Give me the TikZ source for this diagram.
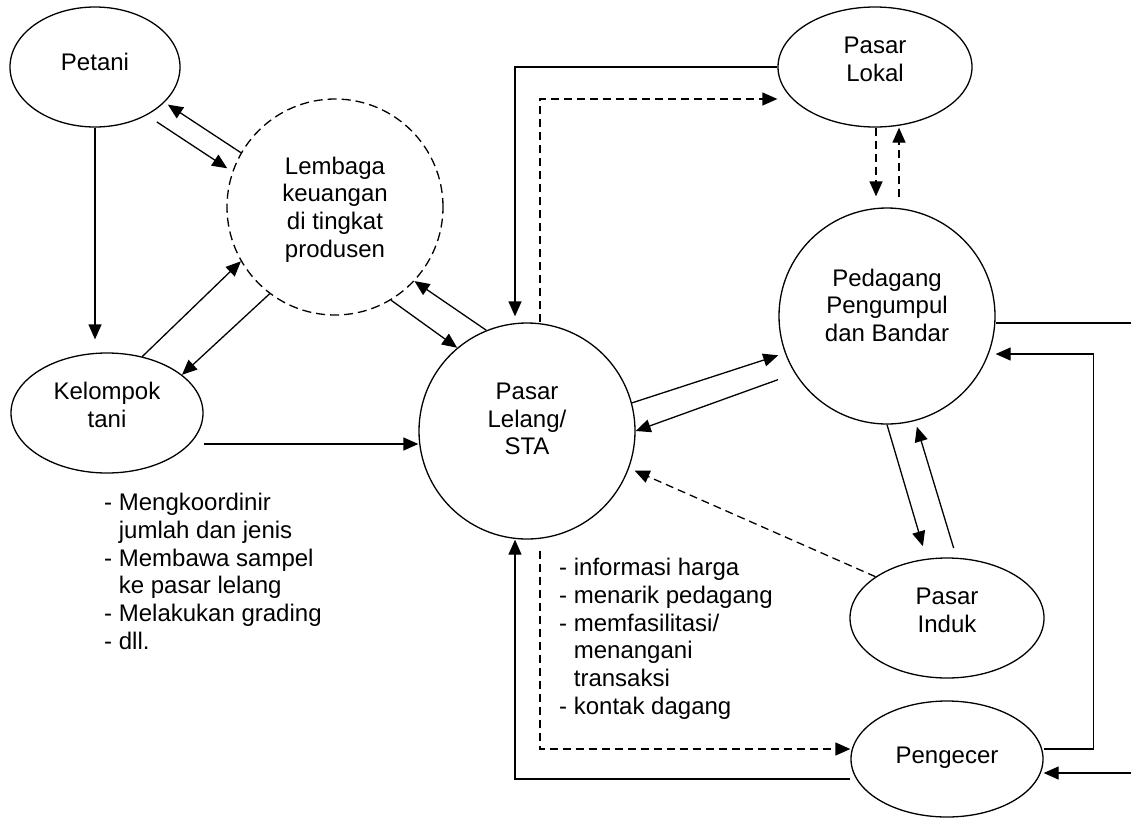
\documentclass[tikz,border=0pt]{standalone}
\usepackage{fontspec}
\setmainfont{Liberation Sans}
\usepackage{tikz}
\usetikzlibrary{positioning,arrows.meta,shapes.geometric}

\begin{document}
\begin{tikzpicture}[
      x=1pt, y=-1pt,
      font=\fontsize{24}{27.7}\selectfont,
      actor/.style={ellipse, draw, line width=1.3pt, inner sep=0pt, align=center,
                    minimum width=192pt, minimum height=120pt},
      hub/.style={circle, draw, line width=1.3pt, inner sep=0pt, align=center,
                  minimum size=216pt},
      lift/.style={text depth=#1},
      link/.style={line width=1.3pt},
      arr/.style={link, -{Triangle[length=15pt,width=13pt]}},
      dasharr/.style={arr, dash pattern=on 8pt off 5pt},
      note/.style={align=left, anchor=north west, inner sep=0pt},
    ]
    \useasboundingbox (0,0) rectangle (1131,817);

    \node[actor, minimum width=170pt, lift=10pt] (petani) at (95,67) {Petani};
    \node[hub, dash pattern=on 9pt off 5pt, lift=0pt] (lembaga) at (335,207)
      {Lembaga\\keuangan\\di tingkat\\produsen};
    \node[actor, lift=16pt] (kelompok) at (107,413) {Kelompok\\tani};
    \node[hub, lift=24pt] (sta) at (527,431) {Pasar\\Lelang/\\STA};
    \node[actor, minimum width=194pt, lift=16pt] (lokal) at (875,67) {Pasar\\Lokal};
    \node[hub, lift=22pt] (pedagang) at (887,316) {Pedagang\\Pengumpul\\dan Bandar};
    \node[actor, minimum width=194pt, lift=16pt] (induk) at (947,618) {Pasar\\Induk};
    \node[actor, minimum height=116pt, lift=8pt] (pengecer) at (947,759) {Pengecer};

    \node[note] (kelnote) at (104,493) {- Mengkoordinir\\\hphantom{- }jumlah dan jenis\\
      - Membawa sampel\\\hphantom{- }ke pasar lelang\\- Melakukan grading\\- dll.};
    \node[note] (stanote) at (559,558) {- informasi harga\\- menarik pedagang\\
      - memfasilitasi/\\\hphantom{- }menangani\\\hphantom{- }transaksi\\- kontak dagang};

    \coordinate (outa) at (1131,323);
    \coordinate (ina) at (1131,773);

    \draw[arr, shorten >=13pt] (petani.south) -- (petani.south |- kelompok.north);
    \draw[arr, shorten >=4pt] (lembaga.150) -- (petani.-27);
    \draw[arr, shorten <=12pt, shorten >=6pt] (petani.-43) -- (lembaga.161);
    \draw[arr] (kelompok.58) -- (lembaga.210);
    \draw[arr] (lembaga.233) -- (kelompok.27);
    \draw[arr] (lembaga.-59) -- (sta.130);
    \draw[arr] (sta.112) -- (lembaga.-43);
    \draw[arr] ([yshift=-31pt]kelompok.east) -- ([yshift=-13pt]sta.west);
    \draw[arr, shorten >=6pt] (lokal.west) -| ([xshift=-12pt]sta.north);
    \draw[dasharr] ([xshift=13pt]sta.north) |- ([yshift=-32pt]lokal.west);
    \draw[dasharr, shorten >=11pt] ([xshift=1pt]lokal.south) -- ([xshift=-11pt]pedagang.north);
    \draw[dasharr, shorten <=10pt] ([xshift=12pt]pedagang.north) -- ([xshift=24pt]lokal.south);
    \draw[arr, shorten >=7pt] (sta.15) -- (pedagang.200);
    \draw[arr, shorten <=18pt] (pedagang.212) -- (sta.0);
    \draw[arr, shorten >=13pt] (pedagang.south) -- (induk.109);
    \draw[arr, shorten <=10pt, shorten >=6pt] (induk.81) -- (pedagang.-75);
    \draw[dasharr, shorten >=6pt] (induk.150) -- (sta.-20);
    \draw[dasharr, shorten <=11pt] ([xshift=13pt]sta.south) |- ([yshift=10pt]pengecer.west);
    \draw[arr] ([yshift=-20pt]pengecer.west) -| ([xshift=-12pt]sta.south);
    \draw[link] ([yshift=-7pt]pedagang.east) -- (outa);
    \draw[arr] ([yshift=10pt]pengecer.east) -- ++(50,0) |- ([yshift=-38pt]pedagang.east);
    \draw[arr] (ina) -- ([yshift=-14pt]pengecer.east);
  \end{tikzpicture}
\end{document}
